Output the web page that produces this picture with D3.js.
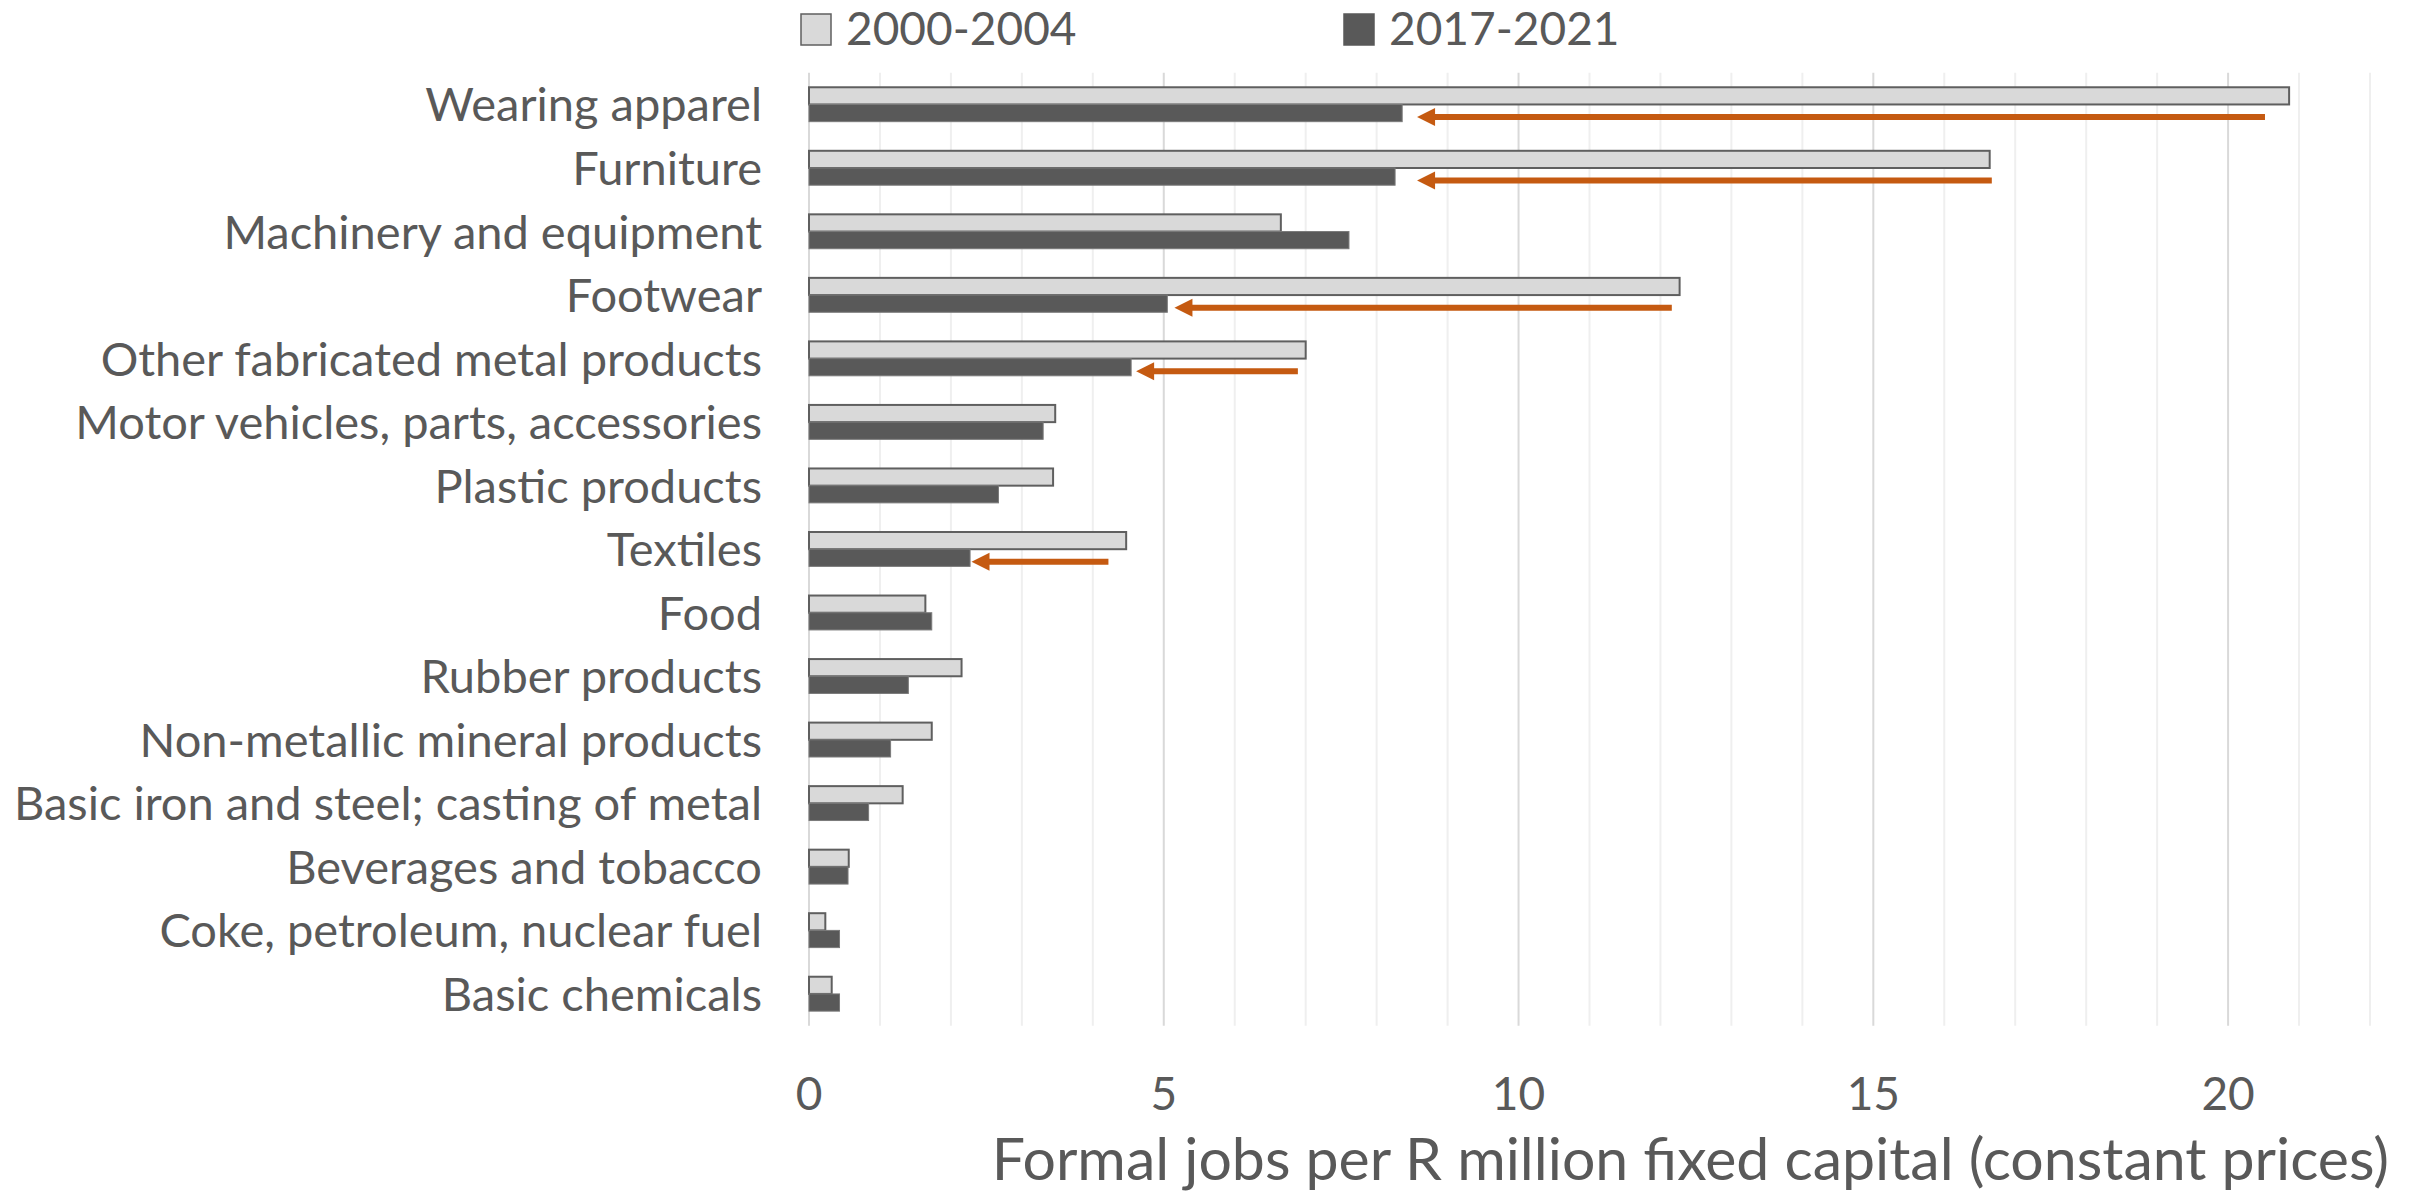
<!DOCTYPE html>
<html>
<head>
<meta charset="utf-8">
<script src="https://cdn.jsdelivr.net/npm/d3@7"></script>
<style>
  html, body { margin: 0; padding: 0; background: #ffffff; }
  svg { display: block; font-family: Lato, "Open Sans", sans-serif; }
</style>
</head>
<body>
<svg id="chart" width="2428" height="1192"></svg>
<script>
// Manufacturing sectors, top to bottom
const categories = [
  "Wearing apparel",
  "Furniture",
  "Machinery and equipment",
  "Footwear",
  "Other fabricated metal products",
  "Motor vehicles, parts, accessories",
  "Plastic products",
  "Textiles",
  "Food",
  "Rubber products",
  "Non-metallic mineral products",
  "Basic iron and steel; casting of metal",
  "Beverages and tobacco",
  "Coke, petroleum, nuclear fuel",
  "Basic chemicals"
];

const seriesNames = ["2000-2004", "2017-2021"];

// Formal jobs per R million fixed capital
const values2000 = [20.86, 16.64, 6.65, 12.27, 7.0, 3.47, 3.44, 4.47, 1.64, 2.15, 1.73, 1.32, 0.56, 0.23, 0.32];
const values2017 = [8.36, 8.26, 7.61, 5.05, 4.54, 3.30, 2.67, 2.27, 1.73, 1.40, 1.15, 0.84, 0.55, 0.43, 0.43];

// Decline arrows drawn beside the later bar
const arrowCats = ["Wearing apparel", "Furniture", "Footwear", "Other fabricated metal products", "Textiles"];
const arrowFrom = [20.52, 16.67, 12.16, 6.89, 4.22];
const arrowTo   = [8.57, 8.57, 5.15, 4.61, 2.29];

const xTicks = [0, 5, 10, 15, 20];
const xMax = 22;
const axisTitle = "Formal jobs per R million fixed capital (constant prices)";

const textColor = "#595959";
const lightFill = "#D9D9D9";
const darkFill = "#595959";
const arrowColor = "#C55A11";

const svg = d3.select("#chart");

const plot = { left: 809, right: 2370, top: 72.7, bottom: 1025.7 };

const x = d3.scaleLinear().domain([0, xMax]).range([plot.left, plot.right]);
const y = d3.scaleBand().domain(categories).range([plot.top, plot.bottom]).padding(0);
const groupH = 34.4;
const inner = d3.scaleBand().domain(seriesNames)
  .range([(y.bandwidth() - groupH) / 2, (y.bandwidth() + groupH) / 2]).padding(0);

// Vertical gridlines: every unit, darker at the labelled ticks
svg.append("g")
  .selectAll("line")
  .data(d3.range(0, xMax + 1))
  .join("line")
  .attr("x1", d => x(d)).attr("x2", d => x(d))
  .attr("y1", plot.top).attr("y2", plot.bottom)
  .attr("stroke", d => (d % 5 === 0) ? "#D9D9D9" : "#EFEFEF")
  .attr("stroke-width", 2);

// Bars
const rows = categories.map((c, i) => ({ cat: c, v: [values2000[i], values2017[i]] }));
const g = svg.append("g")
  .selectAll("g")
  .data(rows)
  .join("g")
  .attr("transform", d => `translate(0,${y(d.cat)})`);

g.append("rect")
  .attr("x", x(0))
  .attr("y", inner(seriesNames[0]))
  .attr("width", d => x(d.v[0]) - x(0))
  .attr("height", inner.bandwidth())
  .attr("fill", lightFill)
  .attr("stroke", "#5f5f5f")
  .attr("stroke-width", 2);

g.append("rect")
  .attr("x", x(0))
  .attr("y", inner(seriesNames[1]))
  .attr("width", d => x(d.v[1]) - x(0))
  .attr("height", inner.bandwidth())
  .attr("fill", darkFill)
  .attr("stroke", "#7a7a7a")
  .attr("stroke-width", 1);

// Arrows
const arrowY = c => y(c) + inner(seriesNames[1]) + inner.bandwidth() / 2 + 4;
const headLen = 18, headHalf = 9;
const arrows = svg.append("g")
  .selectAll("g")
  .data(arrowCats.map((c, i) => ({ cat: c, from: arrowFrom[i], to: arrowTo[i] })))
  .join("g");

arrows.append("line")
  .attr("x1", d => x(d.from))
  .attr("x2", d => x(d.to) + headLen - 2)
  .attr("y1", d => arrowY(d.cat))
  .attr("y2", d => arrowY(d.cat))
  .attr("stroke", arrowColor)
  .attr("stroke-width", 6);

arrows.append("path")
  .attr("d", d => {
    const tx = x(d.to), ty = arrowY(d.cat);
    return `M${tx},${ty} L${tx + headLen},${ty - headHalf} L${tx + headLen},${ty + headHalf} Z`;
  })
  .attr("fill", arrowColor);

// Category labels
svg.append("g")
  .selectAll("text")
  .data(categories)
  .join("text")
  .attr("x", 762)
  .attr("y", d => y(d) + y.bandwidth() / 2 + 17)
  .attr("text-anchor", "end")
  .attr("font-size", 47)
  .attr("fill", textColor)
  .text(d => d);

// X tick labels
svg.append("g")
  .selectAll("text")
  .data(xTicks)
  .join("text")
  .attr("x", d => x(d))
  .attr("y", 1110)
  .attr("text-anchor", "middle")
  .attr("font-size", 46)
  .attr("fill", textColor)
  .text(d => d);

// Axis title
svg.append("text")
  .attr("x", 2389)
  .attr("y", 1180)
  .attr("text-anchor", "end")
  .attr("font-size", 59)
  .attr("fill", textColor)
  .text(axisTitle);

// Legend
const legend = [
  { name: seriesNames[0], fill: lightFill, stroke: "#5f5f5f", x: 801 },
  { name: seriesNames[1], fill: darkFill, stroke: darkFill, x: 1344 }
];
const lg = svg.append("g").selectAll("g").data(legend).join("g");
lg.append("rect")
  .attr("x", d => d.x).attr("y", 14)
  .attr("width", 30).attr("height", 31)
  .attr("fill", d => d.fill)
  .attr("stroke", d => d.stroke)
  .attr("stroke-width", 1.5);
lg.append("text")
  .attr("x", d => d.x + 45)
  .attr("y", 45)
  .attr("font-size", 46)
  .attr("fill", textColor)
  .text(d => d.name);
</script>
</body>
</html>
